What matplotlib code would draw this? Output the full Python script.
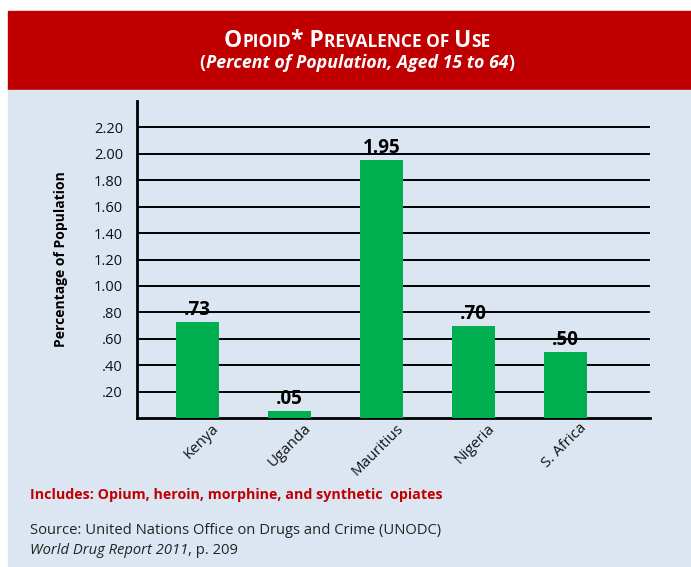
import matplotlib.pyplot as plt
import matplotlib.transforms as mtransforms
from matplotlib.patches import Rectangle

countries = ["Kenya", "Uganda", "Mauritius", "Nigeria", "S. Africa"]
prevalence = [0.73, 0.05, 1.95, 0.70, 0.50]
value_labels = [".73", ".05", "1.95", ".70", ".50"]
y_ticks = [0.2, 0.4, 0.6, 0.8, 1.0, 1.2, 1.4, 1.6, 1.8, 2.0, 2.2]
y_tick_labels = [".20", ".40", ".60", ".80", "1.00", "1.20", "1.40", "1.60", "1.80", "2.00", "2.20"]

RED = "#C00000"
BG = "#DCE6F2"
GREEN = "#00B050"
FONT = "Open Sans"

W, H = 691, 567
fig = plt.figure(figsize=(W / 100, H / 100), dpi=100)
fig.patch.set_facecolor("white")

# header and body boxes (figure pixel coords -> fractions)
def box(x0, y0, x1, y1, color):
    fig.patches.append(Rectangle((x0 / W, 1 - y1 / H), (x1 - x0) / W, (y1 - y0) / H,
                                 transform=fig.transFigure, color=color, zorder=-5))

box(8, 11, W, 90, RED)
box(8, 90, W, H, BG)

r = fig.canvas.get_renderer()

# small-caps title built from pieces
def small_caps(parts, cx, y, big, small):
    texts = []
    for s, is_big in parts:
        t = fig.text(0, y / H, s, fontsize=big if is_big else small, fontweight="bold",
                     color="white", family=FONT, va="baseline", ha="left")
        texts.append(t)
    widths = [t.get_window_extent(r).width for t in texts]
    x = cx - sum(widths) / 2
    for t, w in zip(texts, widths):
        t.set_x(x / W)
        x += w

small_caps([("O", True), ("PIOID", False), ("* P", True), ("REVALENCE OF ", False),
            ("U", True), ("SE", False)], 357, H - 47, 16.5, 12.5)

sub = fig.text(357 / W, 1 - 63 / H, "Percent of Population, Aged 15 to 64",
               fontsize=12.8, fontweight="bold", style="italic", color="white",
               family=FONT, ha="center", va="center")
bb = sub.get_window_extent(r)
fig.text(bb.x0 / W, 1 - 63 / H, "(", fontsize=12.8, fontweight="bold", color="white",
         family=FONT, ha="right", va="center")
fig.text(bb.x1 / W, 1 - 63 / H, ")", fontsize=12.8, fontweight="bold", color="white",
         family=FONT, ha="left", va="center")

# plot area
ax = fig.add_axes([137 / W, 1 - 418 / H, (650 - 137) / W, (418 - 101) / H])
ax.set_facecolor("none")
x = range(len(countries))
ax.bar(x, prevalence, width=0.47, color=GREEN, zorder=3)
for i, (v, lab) in enumerate(zip(prevalence, value_labels)):
    ax.text(i, v + 0.015, lab, ha="center", va="bottom", fontsize=13.5,
            fontweight="bold", family=FONT, zorder=4)

ax.set_ylim(0, 2.4)
ax.set_xlim(-0.66, 4.92)
ax.set_yticks(y_ticks)
ax.set_yticklabels(y_tick_labels, family=FONT, fontsize=10.5, color="#111111")
ax.yaxis.grid(True, color="black", lw=1.4, zorder=1)
ax.set_xticks(list(x))
ax.set_xticklabels(countries, rotation=45, ha="right", rotation_mode="anchor",
                   family=FONT, fontsize=10.8, color="#111111")
ax.tick_params(axis="y", length=0, pad=10)
ax.tick_params(axis="x", length=0, pad=2)
shift = mtransforms.ScaledTranslation(14 / 100, 0, fig.dpi_scale_trans)
for lab in ax.get_xticklabels():
    lab.set_transform(lab.get_transform() + shift)
for s in ["top", "right"]:
    ax.spines[s].set_visible(False)
for s in ["left", "bottom"]:
    ax.spines[s].set_linewidth(2)
    ax.spines[s].set_color("black")
ax.set_ylabel("Percentage of Population", fontsize=10, fontweight="bold", family=FONT)
ax.yaxis.set_label_coords(-0.1345, 0.5)

fig.text(30 / W, 1 - 495 / H, "Includes: Opium, heroin, morphine, and synthetic  opiates",
         fontsize=10.3, fontweight="bold", color=RED, family=FONT, va="center")
fig.text(30 / W, 1 - 530 / H, "Source: United Nations Office on Drugs and Crime (UNODC)",
         fontsize=10.6, color="#222222", family=FONT, va="center")
t1 = fig.text(30 / W, 1 - 551 / H, "World Drug Report 2011", fontsize=10.6, style="italic",
              color="#222222", family=FONT, va="center")
bb = t1.get_window_extent(r)
fig.text(bb.x1 / W, 1 - 551 / H, ", p. 209", fontsize=10.6, color="#222222",
         family=FONT, va="center")

fig.savefig("out.png", dpi=100, facecolor=fig.get_facecolor())
